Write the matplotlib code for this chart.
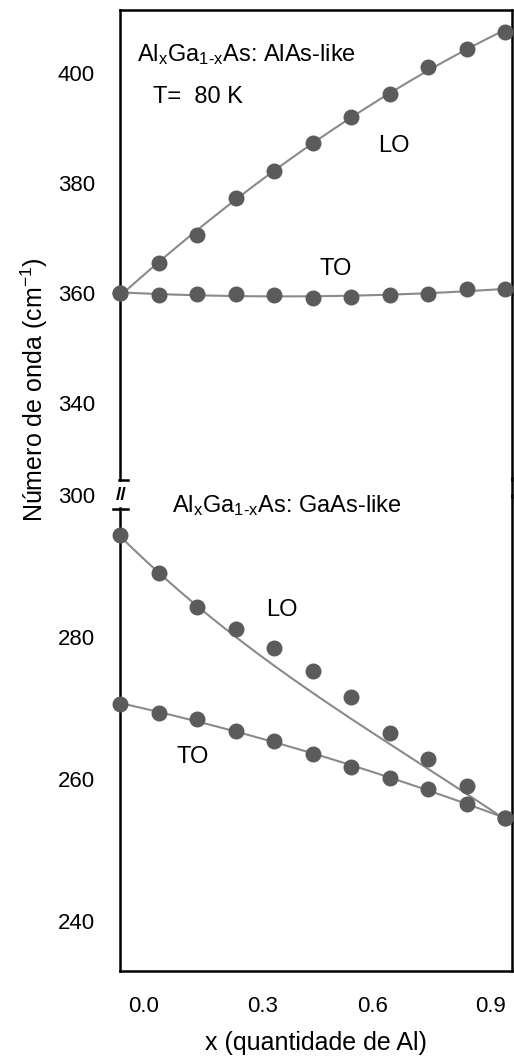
import numpy as np
import matplotlib
matplotlib.use("Agg")
import matplotlib.pyplot as plt
from matplotlib.lines import Line2D


# ======================================================
# DATA
# ======================================================
x_al = [0.0, 0.1, 0.2, 0.3, 0.4, 0.5, 0.6, 0.7, 0.8, 0.9, 1.0]

# AlAs-like branch
alas_lo = [360.0, 365.5, 370.5, 377.3, 382.2, 387.3, 392.0, 396.2, 401.1, 404.4, 407.5]
alas_to = [360.0, 359.7, 359.8, 359.8, 359.6, 359.1, 359.3, 359.7, 359.8, 360.7, 360.7]

# GaAs-like branch
gaas_lo = [294.4, 289.0, 284.2, 281.1, 278.5, 275.2, 271.5, 266.5, 262.8, 259.0, 254.6]
gaas_to = [270.6, 269.3, 268.5, 266.8, 265.4, 263.5, 261.7, 260.1, 258.6, 256.5, 254.6]
gaas_lo_model = [294.4, 289.0, 284.2, 279.6, 276.3, 272.5, 269.0, 264.5, 261.3, 257.7, 254.6]

x_tick_pos = [0.06, 0.371, 0.657, 0.961]
x_tick_labels = ["0.0", "0.3", "0.6", "0.9"]
top_yticks = [340, 360, 380, 400]
bottom_yticks = [240, 260, 280, 300]


# ======================================================
# STYLE
# ======================================================
plt.rcParams["font.family"] = ["Liberation Sans", "DejaVu Sans"]
plt.rcParams["mathtext.fontset"] = "custom"
plt.rcParams["mathtext.rm"] = "Liberation Sans"
plt.rcParams["mathtext.default"] = "rm"

DOT = "#5b5b5b"
LINE = "#8a8a8a"
W, H = 514, 1060


def fig_frac(px_x, px_y):
    return px_x / W, 1 - px_y / H


def smooth(ax, x, y, deg, color=LINE):
    # fitted curve through the points
    xs = np.linspace(min(x), max(x), 200)
    coef = np.polyfit(x, y, deg)
    ax.plot(xs, np.polyval(coef, xs), color=color, lw=1.5, zorder=2,
            clip_on=False)


def style_axis(ax, ylim, yticks):
    ax.set_xlim(0, 1.018)
    ax.set_ylim(*ylim)
    ax.set_yticks(yticks)
    ax.tick_params(axis="y", length=0, pad=18, labelsize=16)
    ax.tick_params(axis="x", length=0, pad=18, labelsize=16)
    for s in ax.spines.values():
        s.set_linewidth(1.8)


# ======================================================
# FIGURE
# ======================================================
fig = plt.figure(figsize=(W / 100, H / 100), dpi=100)

ax_top = fig.add_axes([120 / W, 1 - 480 / H, 392 / W, 470 / H])
ax_bot = fig.add_axes([120 / W, 1 - 971 / H, 392 / W, 476 / H])

style_axis(ax_top, (326, 411.5), top_yticks)
style_axis(ax_bot, (233, 300), bottom_yticks)

ax_top.spines["bottom"].set_visible(False)
ax_top.set_xticks([])
ax_bot.spines["top"].set_visible(False)
# left axis of the lower panel starts below the break
ax_bot.spines["left"].set_bounds(233, 298.2)
ax_bot.set_xticks(x_tick_pos)
ax_bot.set_xticklabels(x_tick_labels)

# Top panel: AlAs-like
smooth(ax_top, x_al, alas_lo, 2)
smooth(ax_top, x_al, alas_to, 2)
ax_top.scatter(x_al, alas_lo, s=110, color=DOT, zorder=3, clip_on=False)
ax_top.scatter(x_al, alas_to, s=110, color=DOT, zorder=3, clip_on=False)

# Bottom panel: GaAs-like
smooth(ax_bot, x_al, gaas_lo_model, 3)
smooth(ax_bot, x_al, gaas_to, 2)
ax_bot.scatter(x_al, gaas_lo, s=110, color=DOT, zorder=3, clip_on=False)
ax_bot.scatter(x_al, gaas_to, s=110, color=DOT, zorder=3, clip_on=False)

# Annotations
ax_top.text(0.045, 402.2, r"Al$_\mathregular{x}$Ga$_\mathregular{1\text{-}x}$As: AlAs-like",
            fontsize=17, va="baseline", ha="left")
ax_top.text(0.085, 394.5, "T=  80 K", fontsize=17, va="baseline", ha="left")
ax_top.text(0.71, 385.6, "LO", fontsize=17, va="baseline", ha="center")
ax_top.text(0.56, 363.3, "TO", fontsize=17, va="baseline", ha="center")

ax_bot.text(0.135, 297.6, r"Al$_\mathregular{x}$Ga$_\mathregular{1\text{-}x}$As: GaAs-like",
            fontsize=17, va="baseline", ha="left")
ax_bot.text(0.42, 283.0, "LO", fontsize=17, va="baseline", ha="center")
ax_bot.text(0.19, 262.3, "TO", fontsize=17, va="baseline", ha="center")

# Axis labels
fig.text(*fig_frac(34, 390), r"Número de onda (cm$^{-1}$)", rotation=90,
         fontsize=18, ha="center", va="center")
fig.text(*fig_frac(316, 1043), "x (quantidade de Al)", fontsize=18,
         ha="center", va="center")

# Right frame continues through the gap, left axis broken
fig.add_artist(Line2D([512 / W, 512 / W], [1 - 478 / H, 1 - 497 / H],
                      transform=fig.transFigure, color="black", lw=1.8))
for y_cap, x0, x1 in [(480, 119, 128), (509, 113, 128)]:
    fig.add_artist(Line2D([x0 / W, x1 / W], [1 - y_cap / H, 1 - y_cap / H],
                          transform=fig.transFigure, color="black", lw=1.8))
fig.text(*fig_frac(121, 495), "//", fontsize=14, fontweight="bold",
         ha="center", va="center")

fig.savefig("out.png", dpi=100)
